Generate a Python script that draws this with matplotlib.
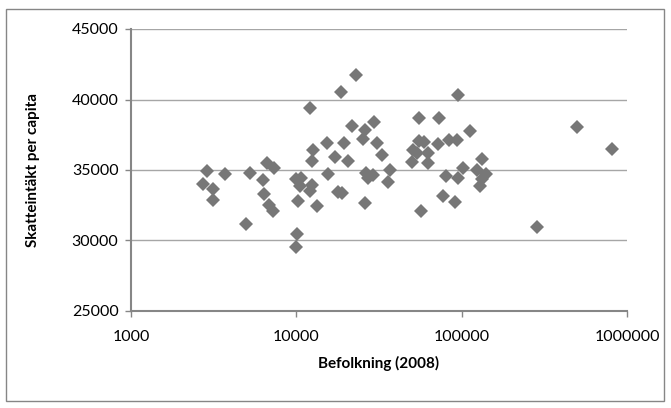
import numpy as np
import matplotlib
matplotlib.use("Agg")
import matplotlib.pyplot as plt
from matplotlib.patches import Rectangle
from matplotlib.ticker import FixedLocator, FixedFormatter

plt.rcParams['font.family'] = ['Lato', 'DejaVu Sans']

# kommuner: befolkning 2008 och skatteintakt per capita
befolkning = [2715, 2902, 3145, 3145, 3678, 4962, 5260, 6260, 6392, 6628,
              7348, 6834, 7177, 9885, 10671, 10452, 10278, 10094, 9885, 12149,
              12669, 12388, 12440, 12098, 13335, 15329, 15478, 17134, 18578, 22951,
              21710, 19502, 20393, 17744, 18888, 26141, 29623, 25304, 30754, 32843,
              26213, 26953, 29210, 26027, 37020, 36003, 55367, 73219, 94624, 112300,
              54972, 59020, 50568, 53459, 50420, 62317, 62836, 71921, 83826, 93723,
              80390, 95436, 101600, 77446, 90772, 56613, 133660, 124650, 140360, 132740,
              128250, 500600, 814900, 286800]
skatt = [34007, 34929, 33653, 32873, 34681, 31171, 34752, 34256, 33298, 35461,
         35107, 32483, 32093, 34341, 34412, 33866, 32766, 30461, 29518, 39376,
         36419, 35639, 33936, 33511, 32468, 36894, 34717, 35901, 40553, 41738,
         38121, 36894, 35660, 33461, 33369, 37837, 38404, 37199, 36880, 36064,
         34766, 34468, 34646, 32639, 34965, 34170, 38688, 38688, 40341, 37745,
         37092, 36972, 36383, 36185, 35589, 36185, 35475, 36809, 37128, 37128,
         34575, 34468, 35107, 33156, 32709, 32114, 35802, 34979, 34717, 34362,
         33866, 38071, 36468, 30937]

xticks = [1000, 10000, 100000, 1000000]
yticks = [25000, 30000, 35000, 40000, 45000]

fig = plt.figure(figsize=(6.71, 4.08), dpi=100)
ax = fig.add_axes([131/671, 1 - 311/408, (627 - 131)/671, (311 - 29)/408])

ax.set_xscale('log')
ax.set_xlim(1000, 1000000)
ax.set_ylim(25000, 45000)

for y in yticks[1:]:
    ax.axhline(y, color='#a6a6a6', lw=1.0, zorder=1)

ax.plot(befolkning, skatt, linestyle='none', marker='D', markersize=6.8,
        color='#777777', markeredgewidth=0, zorder=3)

ax.xaxis.set_major_locator(FixedLocator(xticks))
ax.xaxis.set_major_formatter(FixedFormatter([str(t) for t in xticks]))
ax.xaxis.set_minor_locator(FixedLocator([]))
ax.set_yticks(yticks)
ax.set_yticklabels([str(t) for t in yticks])

for side in ['top', 'right']:
    ax.spines[side].set_visible(False)
for side in ['left', 'bottom']:
    ax.spines[side].set_color('#868686')
    ax.spines[side].set_linewidth(1.5)

ax.tick_params(axis='both', colors='#868686', labelcolor='black', labelsize=11.5,
               length=4, width=1)
ax.tick_params(axis='x', pad=10)
ax.tick_params(axis='y', pad=5)

ax.set_xlabel('Befolkning (2008)', fontsize=11, fontweight='bold', labelpad=8)
ax.set_ylabel('Skatteintäkt per capita', fontsize=11, fontweight='bold', labelpad=23)

# ram runt hela diagrammet
fig.patches.append(Rectangle((6/671, 1 - 401/408), (664 - 6)/671, (401 - 9)/408,
                             transform=fig.transFigure, fill=False,
                             edgecolor='#868686', lw=1.0))

fig.savefig('out.png', dpi=100)
